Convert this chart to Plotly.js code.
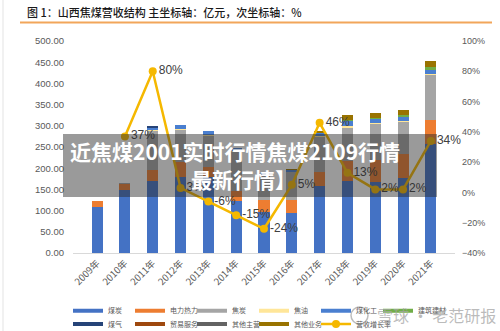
<!DOCTYPE html>
<html>
<head>
<meta charset="utf-8">
<script src="https://cdn.plot.ly/plotly-3.0.1.min.js"></script>
<style>html,body{margin:0;padding:0;background:#fff;}#chart{width:500px;height:331px;}</style>
</head>
<body>
<div id="chart"></div>
<script>
// ---- data (亿元) ----
const years = ["2009年","2010年","2011年","2012年","2013年","2014年","2015年","2016年","2017年","2018年","2019年","2020年","2021年"];
const coal        = [108, 148, 171, 180, 180, 122,  96,  94, 157, 171, 168, 178, 257]; // 煤炭
const power       = [ 14,  15,  24,  35,  22,  25,  28,  30,  34,  47,  51,  56,  57]; // 电力热力
const coke        = [  0,   3,  93,  74,  75,  92,  60,  66,  83,  78,  85,  75, 105]; // 焦炭
const tar         = [  0,   0,   2,   3,   2,   2,   1,   1,   2,   3,   3,   3,   3]; // 焦油
const coalChem    = [  0,   0,   4,  11,   8,   6,   4,   4,   6,  13,  10,   9,   9]; // 煤化工
const building    = [  0,   0,   0,   0,   0,   0,   0,   0,   0,   2,   1,   4,   8]; // 建筑建材
const gas         = [  0,   0,   5,   0,   0,   0,   0,   1,   2,   0,   0,   0,   0]; // 煤气
const trade       = [  0,   0,   0,   0,   0,   0,   0,   0,   0,   0,   0,   0,   0]; // 贸易服务
const otherMain   = [  0,   0,   0,   0,   0,   0,   0,   0,   0,   0,   0,   0,   0]; // 其他主营
const otherBiz    = [  0,   0,   0,   0,   0,   0,   0,   1,   4,  11,  12,  12,  13]; // 其他业务
const growth      = [null, 0.37, 0.80, 0.03, -0.06, -0.15, -0.24, 0.05, 0.46, 0.13, 0.02, 0.02, 0.34]; // 营收增长率

const seriesNames  = ["煤炭","电力热力","焦炭","焦油","煤化工","建筑建材","煤气","贸易服务","其他主营","其他业务"];
const seriesValues = [coal, power, coke, tar, coalChem, building, gas, trade, otherMain, otherBiz];
const seriesColors = ["#4472C4","#ED7D31","#A5A5A5","#FFE699","#4A7FD0","#70AD47","#264478","#9E480E","#636363","#997300"];
const lineName = "营收增长率";
const lineColor = "#F5B800";

// ---- layout geometry (pixels) ----
const W = 500, H = 331, L = 73, R = 45, T = 41, B = 78;
const pw = W - L - R, ph = H - T - B;
const px = x => (x - L) / pw;
const py = y => (H - B - y) / ph;

const FONT = "Liberation Sans, Arial, Noto Sans CJK SC, sans-serif";
const CJK = "Noto Sans CJK SC, sans-serif";

const traces = [];
seriesNames.forEach((n, i) => {
  traces.push({
    type: "bar", name: n, x: years, y: seriesValues[i],
    marker: {color: seriesColors[i], line: {width: 0}},
    showlegend: false, hoverinfo: "skip"
  });
});
// legend entries (line style symbols like the original)
seriesNames.forEach((n, i) => {
  const t = {
    type: "scatter", mode: "lines", name: n, x: [null], y: [null],
    line: {color: seriesColors[i], width: 4},
    legend: i < 6 ? "legend" : "legend2", hoverinfo: "skip"
  };
  if (i === 5) t.legendwidth = 28;
  traces.push(t);
});
traces.push({
  type: "scatter", mode: "lines+markers+text", name: lineName,
  x: years, y: growth, yaxis: "y2",
  line: {color: lineColor, width: 2.5},
  marker: {color: lineColor, size: 8},
  text: growth.map(v => v === null ? "" : Math.round(v * 100) + "%"),
  textposition: "middle right",
  textfont: {family: FONT, size: 12, color: "#404040"},
  cliponaxis: false, legendwidth: 36,
  legend: "legend2", connectgaps: false
});

const legendCommon = {
  orientation: "h", xanchor: "left", yanchor: "middle",
  xref: "container", yref: "container",
  font: {family: CJK, size: 7, color: "#595959"},
  entrywidth: 17, entrywidthmode: "pixels", itemwidth: 30,
  bgcolor: "rgba(0,0,0,0)", borderwidth: 0, traceorder: "normal"
};

const layout = {
  width: W, height: H,
  margin: {l: L, r: R, t: T, b: B, pad: 0},
  paper_bgcolor: "#ffffff", plot_bgcolor: "#ffffff",
  barmode: "stack", bargap: 0.6,
  title: {
    text: "图 1：山西焦煤营收结构 主坐标轴：亿元，次坐标轴：%",
    x: 27 / W, xanchor: "left", xref: "container",
    y: 1 - 13 / H, yanchor: "middle", yref: "container",
    font: {family: CJK, size: 11, color: "#1a1a1a", weight: 500}
  },
  xaxis: {
    type: "category", tickangle: -45,
    tickfont: {family: CJK, size: 9.5, color: "#595959"},
    showline: true, linecolor: "#D9D9D9", linewidth: 1,
    ticks: "", showgrid: false, zeroline: false, fixedrange: true, automargin: false
  },
  yaxis: {
    range: [0, 500], dtick: 50, tickformat: ".2f",
    tickfont: {family: FONT, size: 9.5, color: "#595959"},
    showgrid: false, zeroline: false, showline: false, ticks: "",
    ticklabelstandoff: 8, automargin: false
  },
  yaxis2: {
    overlaying: "y", side: "right",
    range: [-0.4, 1.0], dtick: 0.2, tickformat: ".0%",
    tickfont: {family: FONT, size: 9, color: "#595959"},
    showgrid: false, zeroline: false, showline: false, ticks: "",
    ticklabelstandoff: 6, automargin: false
  },
  legend:  Object.assign({}, legendCommon, {x: 68 / W, y: 1 - 310.7 / H}),
  legend2: Object.assign({}, legendCommon, {x: 68 / W, y: 1 - 324 / H}),
  shapes: [
    {type: "line", xref: "paper", yref: "paper", x0: px(20), x1: px(492), y0: py(22.5), y1: py(22.5),
     line: {color: "#F2A65A", width: 2}, layer: "above"},
    {type: "line", xref: "paper", yref: "paper", x0: px(3), x1: px(3), y0: py(0), y1: py(H),
     line: {color: "#E3E3E3", width: 1}, layer: "above"},
    {type: "rect", xref: "paper", yref: "paper", x0: px(63), x1: px(437), y0: py(134), y1: py(197),
     fillcolor: "rgba(40,40,40,0.47)", line: {width: 0}, layer: "above"},
    {type: "circle", xref: "paper", yref: "paper", x0: px(351), x1: px(368), y0: py(307), y1: py(324),
     line: {color: "rgba(160,160,160,0.7)", width: 1.5}, layer: "above"}
  ],
  annotations: [
    {text: "<b>近焦煤2001实时行情焦煤2109行情</b>", xref: "paper", yref: "paper",
     x: px(235), y: py(151), xanchor: "center", yanchor: "middle", showarrow: false,
     font: {family: CJK, size: 21, color: "#ffffff"}},
    {text: "<b>最新行情】</b>", xref: "paper", yref: "paper",
     x: px(243), y: py(179), xanchor: "center", yanchor: "middle", showarrow: false,
     font: {family: CJK, size: 21, color: "#ffffff"}},
    {text: "雪球 · 老范研报", xref: "paper", yref: "paper",
     x: px(375), y: py(315), xanchor: "left", yanchor: "middle", showarrow: false,
     font: {family: CJK, size: 16, color: "rgba(165,165,165,0.75)"}}
  ],
  showlegend: true
};

Plotly.newPlot("chart", traces, layout, {displayModeBar: false, staticPlot: true});
</script>
</body>
</html>
